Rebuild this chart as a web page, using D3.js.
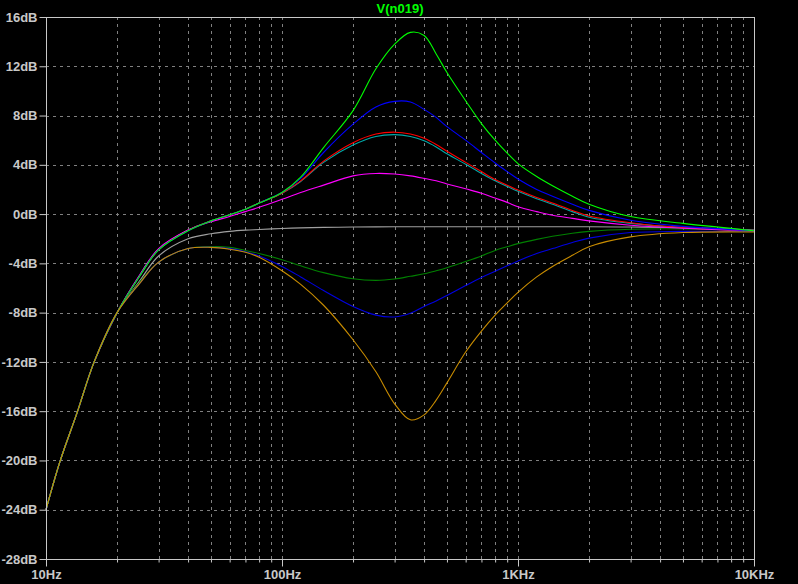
<!DOCTYPE html>
<html>
<head>
<meta charset="utf-8">
<script src="https://cdn.jsdelivr.net/npm/d3@7"></script>
<style>
  html, body { margin: 0; padding: 0; background: #000; }
  svg { display: block; }
  text { font-family: "Liberation Sans", Arial, sans-serif; }
</style>
</head>
<body>
<svg id="chart" width="798" height="584"></svg>
<script>
// ---------------- DATA ----------------
const title = "V(n019)";
const freqs = [10, 11.5, 13.5, 16, 20, 25, 30, 40, 50, 60, 70, 80, 100, 120, 150, 200, 250, 300, 350, 400, 450, 500, 600, 700, 800, 900, 1000, 1200, 1400, 1700, 2000, 3000, 5000, 10000];

const greenVals   = [-24, -20, -16.2, -12, -8, -5.0, -2.9, -1.35, -0.55, -0.05, 0.4, 0.9, 1.75, 3.0, 5.4, 8.4, 11.8, 13.8, 14.75, 14.5, 13.0, 11.5, 9.2, 7.35, 6.0, 4.95, 4.1, 3.05, 2.3, 1.45, 0.8, -0.2, -0.75, -1.35];
const blueUpVals  = [-24, -20, -16.2, -12, -8, -5.0, -2.9, -1.35, -0.55, -0.05, 0.4, 0.9, 1.75, 2.9, 5.0, 7.3, 8.7, 9.15, 9.1, 8.5, 7.85, 7.1, 6.0, 5.0, 4.15, 3.45, 2.85, 2.0, 1.45, 0.8, 0.3, -0.5, -1.0, -1.35];
const redVals     = [-24, -20, -16.2, -12, -8, -5.0, -2.9, -1.3, -0.55, -0.05, 0.4, 0.9, 1.7, 2.7, 4.3, 5.8, 6.5, 6.65, 6.5, 6.15, 5.65, 5.1, 4.2, 3.45, 2.8, 2.35, 1.95, 1.35, 0.9, 0.3, -0.15, -0.7, -1.1, -1.35];
const cyanVals    = [-24, -20, -16.2, -12, -8, -5.0, -2.9, -1.3, -0.55, -0.05, 0.4, 0.9, 1.7, 2.65, 4.2, 5.6, 6.3, 6.45, 6.3, 5.95, 5.45, 4.9, 4.05, 3.3, 2.7, 2.25, 1.85, 1.25, 0.8, 0.2, -0.25, -0.75, -1.1, -1.35];
const magentaVals = [-24, -20, -16.2, -12, -8, -4.9, -2.8, -1.3, -0.62, -0.2, 0.2, 0.55, 1.2, 1.75, 2.35, 3.1, 3.3, 3.25, 3.1, 2.9, 2.7, 2.45, 2.05, 1.7, 1.3, 0.95, 0.6, 0.2, -0.1, -0.35, -0.55, -0.9, -1.15, -1.35];
const grayVals    = [-24, -20, -16.2, -12, -8, -5.4, -3.4, -2.0, -1.6, -1.4, -1.3, -1.25, -1.17, -1.12, -1.08, -1.05, -1.04, -1.03, -1.03, -1.03, -1.03, -1.03, -1.03, -1.03, -1.03, -1.03, -1.03, -1.03, -1.03, -1.03, -1.03, -1.05, -1.1, -1.3];
const dkGreenVals = [-24, -20, -16.2, -12, -8, -5.5, -3.9, -2.8, -2.65, -2.7, -2.95, -3.2, -3.7, -4.2, -4.75, -5.25, -5.38, -5.27, -5.05, -4.85, -4.6, -4.35, -3.85, -3.4, -2.95, -2.65, -2.4, -2.05, -1.8, -1.55, -1.4, -1.23, -1.2, -1.35];
const blueLoVals  = [-24, -20, -16.2, -12, -8, -5.6, -3.9, -2.8, -2.7, -2.8, -3.05, -3.4, -4.25, -5.1, -6.2, -7.5, -8.2, -8.35, -8.05, -7.5, -7.05, -6.6, -5.8, -5.15, -4.65, -4.2, -3.8, -3.2, -2.8, -2.3, -1.95, -1.5, -1.4, -1.4];
const orangeVals  = [-24, -20, -16.2, -12, -8, -5.6, -3.9, -2.8, -2.7, -2.85, -3.1, -3.5, -4.6, -5.7, -7.4, -10.2, -12.8, -15.4, -16.7, -16.3, -15.1, -13.7, -11.2, -9.5, -8.2, -7.2, -6.35, -5.1, -4.25, -3.35, -2.65, -1.85, -1.5, -1.45];

const seriesNames  = ["gray", "dkGreen", "blueLo", "cyan", "red", "magenta", "blueUp", "green", "orange"];
const seriesValues = [grayVals, dkGreenVals, blueLoVals, cyanVals, redVals, magentaVals, blueUpVals, greenVals, orangeVals];
const seriesColors = ["#a0a0a0", "#008000", "#0000e0", "#00a8a8", "#ff0000", "#ff00ff", "#0000ff", "#00ff00", "#c88c00"];

const yTicks = [16, 12, 8, 4, 0, -4, -8, -12, -16, -20, -24, -28];
const yTickLabels = ["16dB", "12dB", "8dB", "4dB", "0dB", "-4dB", "-8dB", "-12dB", "-16dB", "-20dB", "-24dB", "-28dB"];
const xMajorTicks = [10, 100, 1000, 10000];
const xMajorLabels = ["10Hz", "100Hz", "1KHz", "10KHz"];

// ---------------- LAYOUT ----------------
const L = 46, R = 754, T = 17, B = 559;
const svg = d3.select("#chart");
svg.append("rect").attr("width", 798).attr("height", 584).attr("fill", "#000");

const x = d3.scaleLog().domain([10, 10000]).range([L, R]);
const y = d3.scaleLinear().domain([-28, 16]).range([B, T]);

const gridColor = "#808080";
const axisColor = "#c8c8c8";
const fontFam = "Liberation Sans, Arial, sans-serif";

const minorFreqs = [];
[10, 100, 1000].forEach(d => { for (let k = 2; k <= 9; k++) minorFreqs.push(d * k); });
const vGrid = minorFreqs.concat([100, 1000]);

const grid = svg.append("g").attr("shape-rendering", "crispEdges");
grid.selectAll("line.v").data(vGrid).enter().append("line")
  .attr("x1", d => Math.round(x(d)) + 0.5).attr("x2", d => Math.round(x(d)) + 0.5)
  .attr("y1", T).attr("y2", B)
  .attr("stroke", gridColor).attr("stroke-width", 1).attr("stroke-dasharray", "3,4");
grid.selectAll("line.h").data(yTicks.filter(d => d > -28 && d < 16)).enter().append("line")
  .attr("y1", d => Math.round(y(d)) + 0.5).attr("y2", d => Math.round(y(d)) + 0.5)
  .attr("x1", L).attr("x2", R)
  .attr("stroke", gridColor).attr("stroke-width", 1).attr("stroke-dasharray", "3,4");

// ---------------- CURVES ----------------
const line = d3.line()
  .x((d, i) => x(freqs[i]))
  .y(d => y(d))
  .curve(d3.curveCatmullRom.alpha(0.5));

const curves = svg.append("g");
seriesValues.forEach((vals, k) => {
  curves.append("path")
    .datum(vals)
    .attr("d", line)
    .attr("fill", "none")
    .attr("stroke", seriesColors[k])
    .attr("stroke-width", 1.1);
});

// ---------------- AXES ----------------
const yAxis = d3.axisLeft(y).tickValues(yTicks).tickSize(7).tickPadding(2)
  .tickFormat((d, i) => yTickLabels[i]);
const gy = svg.append("g").attr("transform", `translate(${L + 0.5},0)`).call(yAxis);
gy.select(".domain").remove();
gy.selectAll(".tick line").attr("stroke", axisColor);
gy.selectAll(".tick text").attr("fill", axisColor).attr("font-size", 13)
  .attr("font-weight", "bold").attr("font-family", fontFam);

const xAxisMinor = d3.axisBottom(x).tickValues(minorFreqs).tickSize(3).tickFormat("");
const gxm = svg.append("g").attr("transform", `translate(0,${B + 0.5})`).call(xAxisMinor);
gxm.select(".domain").remove();
gxm.selectAll(".tick line").attr("stroke", axisColor);

const xAxis = d3.axisBottom(x).tickValues(xMajorTicks).tickSize(7).tickPadding(3)
  .tickFormat((d, i) => xMajorLabels[i]);
const gx = svg.append("g").attr("transform", `translate(0,${B + 0.5})`).call(xAxis);
gx.select(".domain").remove();
gx.selectAll(".tick line").attr("stroke", axisColor);
gx.selectAll(".tick text").attr("fill", axisColor).attr("font-size", 13)
  .attr("font-weight", "bold").attr("font-family", fontFam);

// frame
const frame = svg.append("g").attr("shape-rendering", "crispEdges");
frame.append("line").attr("x1", L + 0.5).attr("x2", L + 0.5).attr("y1", T).attr("y2", B + 1).attr("stroke", axisColor);
frame.append("line").attr("x1", R + 0.5).attr("x2", R + 0.5).attr("y1", T).attr("y2", B + 1).attr("stroke", axisColor);
frame.append("line").attr("x1", L).attr("x2", R + 1).attr("y1", T + 0.5).attr("y2", T + 0.5).attr("stroke", axisColor);
frame.append("line").attr("x1", L).attr("x2", R + 1).attr("y1", B + 0.5).attr("y2", B + 0.5).attr("stroke", axisColor);

// title
svg.append("text")
  .attr("x", 400).attr("y", 13)
  .attr("text-anchor", "middle")
  .attr("fill", "#00ff00")
  .attr("font-size", 13)
  .attr("font-weight", "bold")
  .attr("font-family", fontFam)
  .text(title);
</script>
</body>
</html>
